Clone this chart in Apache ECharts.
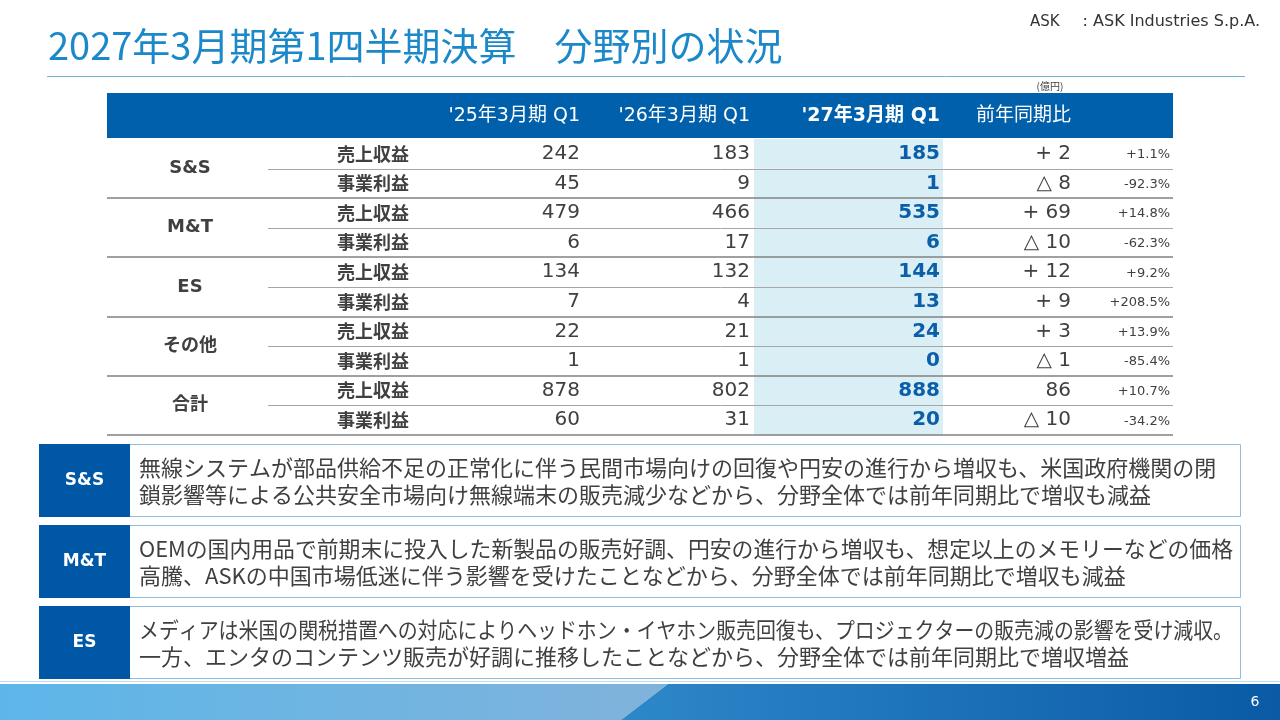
<!DOCTYPE html>
<html><head><meta charset="utf-8">
<script src="https://cdn.jsdelivr.net/npm/echarts@6/dist/echarts.min.js"></script>
<style>html,body{margin:0;padding:0;background:#fff}#c{width:1280px;height:720px}</style>
</head><body><div id="c"></div>
<script>
// ---------- data ----------
const segments = ['S&S', 'M&T', 'ES', 'その他', '合計'];
const metrics = ['売上収益', '事業利益'];
const periodHeaders = ["'25年3月期 Q1", "'26年3月期 Q1", "'27年3月期 Q1", '前年同期比'];
const fy25 = [242, 45, 479, 6, 134, 7, 22, 1, 878, 60];
const fy26 = [183, 9, 466, 17, 132, 4, 21, 1, 802, 31];
const fy27 = [185, 1, 535, 6, 144, 13, 24, 0, 888, 20];
const yoyDiff = ['+ 2', '△ 8', '+ 69', '△ 10', '+ 12', '+ 9', '+ 3', '△ 1', '86', '△ 10'];
const yoyPct = ['+1.1%', '-92.3%', '+14.8%', '-62.3%', '+9.2%', '+208.5%', '+13.9%', '-85.4%', '+10.7%', '-34.2%'];
const noteLabels = ['S&S', 'M&T', 'ES'];
const noteLine1 = [
  '無線システムが部品供給不足の正常化に伴う民間市場向けの回復や円安の進行から増収も、米国政府機関の閉',
  'OEMの国内用品で前期末に投入した新製品の販売好調、円安の進行から増収も、想定以上のメモリーなどの価格',
  'メディアは米国の関税措置への対応によりヘッドホン・イヤホン販売回復も、プロジェクターの販売減の影響を受け減収。'
];
const noteLine2 = [
  '鎖影響等による公共安全市場向け無線端末の販売減少などから、分野全体では前年同期比で増収も減益',
  '高騰、ASKの中国市場低迷に伴う影響を受けたことなどから、分野全体では前年同期比で増収も減益',
  '一方、エンタのコンテンツ販売が好調に推移したことなどから、分野全体では前年同期比で増収増益'
];
const titleText = '2027年3月期第1四半期決算　分野別の状況';
const companyAbbr = 'ASK';
const companyName = ': ASK Industries S.p.A.';
const unitText = '(億円)';
const pageNo = '6';

// ---------- layout / style ----------
const rowKeys = [];
segments.forEach(s => metrics.forEach(m => rowKeys.push(s + '|' + m)));
const CJK = '"Noto Sans CJK JP"';
const LAT = '"DejaVu Sans", "Noto Sans CJK JP"';
const TXT = '#404040';
const BLUE = '#0b5fa8';
const HEAD = '#0060ac';
const tableL = 107, tableR = 1173;
const colRight = [580, 750, 940, 1071, 1170];
const hiL = 754, hiR = 943;
const itemCx = 373, groupCx = 190, innerLineX = 268;

function txt(text, x, y, font, fill, align) {
  return { type: 'text', style: { text: text, x: x, y: y, font: font, fill: fill,
    textAlign: align || 'left', align: align || 'left', textVerticalAlign: 'middle', verticalAlign: 'middle' } };
}

const measureCtx = document.createElement('canvas').getContext('2d');
function fitScale(text, font, maxW) {
  measureCtx.font = font;
  const w = measureCtx.measureText(text).width;
  return w > maxW ? maxW / w : 1;
}

// ---------- static graphics ----------
const graphics = [];
graphics.push(txt(titleText, 48, 46, '38px ' + CJK, '#1b88c9'));
graphics.push(txt(companyAbbr, 1030, 22, '15px ' + LAT, '#333333', 'left'));
graphics.push(txt(companyName, 1260, 22, '16px ' + LAT, '#333333', 'right'));
graphics.push({ type: 'line', shape: { x1: 47, y1: 76.5, x2: 1245, y2: 76.5 }, style: { stroke: '#6db2d9', lineWidth: 1 } });
graphics.push(txt(unitText, 1050, 86, '10px ' + CJK, TXT, 'center'));
graphics.push({ type: 'rect', shape: { x: tableL, y: 93, width: tableR - tableL, height: 45 }, style: { fill: HEAD } });
periodHeaders.forEach((h, k) => {
  graphics.push(txt(h, colRight[k], 116, (k === 2 ? 'bold ' : '') + '19px ' + LAT, '#ffffff', 'right'));
});
// note boxes
noteLabels.forEach((lab, k) => {
  const top = 444 + k * 81;
  graphics.push({ type: 'rect', shape: { x: 39.5, y: top + 0.5, width: 1201, height: 72 }, style: { fill: '#ffffff', stroke: '#93bcdc', lineWidth: 1 } });
  graphics.push({ type: 'rect', shape: { x: 39, y: top, width: 91, height: 73 }, style: { fill: '#0057a5' } });
  graphics.push(txt(lab, 84.5, top + 36.5, 'bold 17px ' + LAT, '#ffffff', 'center'));
  const f = '22px ' + CJK;
  [noteLine1[k], noteLine2[k]].forEach((line, j) => {
    const s = fitScale(line, f, 1094);
    graphics.push({ type: 'text', x: 139, y: top + 23.5 + j * 27, scaleX: s,
      style: { text: line, x: 0, y: 0, font: f, fill: TXT, textAlign: 'left', align: 'left', textVerticalAlign: 'middle', verticalAlign: 'middle' } });
  });
});
// footer
graphics.push({ type: 'line', shape: { x1: 0, y1: 681.5, x2: 1280, y2: 681.5 }, style: { stroke: '#bcdcf0', lineWidth: 1 } });
graphics.push({ type: 'polygon', shape: { points: [[0, 684], [668, 684], [621, 720], [0, 720]] },
  style: { fill: new echarts.graphic.LinearGradient(0, 0, 1, 0, [{ offset: 0, color: '#5db6e9' }, { offset: 1, color: '#80b3db' }]) } });
graphics.push({ type: 'polygon', shape: { points: [[668, 684], [1280, 684], [1280, 720], [621, 720]] },
  style: { fill: new echarts.graphic.LinearGradient(0, 0, 1, 0, [{ offset: 0, color: '#2d88c9' }, { offset: 1, color: '#0a5aa6' }]) } });
graphics.push(txt(pageNo, 1255, 702, '14px ' + LAT, '#ffffff', 'center'));

// ---------- series ----------
const rowData = rowKeys.map((k, i) => [0, i]);

function highlightItem(params, api) {
  const i = api.value(1);
  const c = api.coord([0, i]);
  const h = api.size([0, 1])[1];
  const x1 = api.coord([hiL, i])[0], x2 = api.coord([hiR, i])[0];
  return { type: 'rect', shape: { x: x1, y: c[1] - h / 2, width: x2 - x1, height: h }, style: { fill: '#daeef6' } };
}

function cellItem(params, api) {
  const i = api.value(1);
  const y = api.coord([0, i])[1];
  const h = api.size([0, 1])[1];
  const X = v => api.coord([v, i])[0];
  const bottom = y + h / 2;
  const ch = [];
  ch.push(txt(metrics[i % 2], X(itemCx), y, 'bold 18px ' + CJK, TXT, 'center'));
  ch.push(txt(String(fy25[i]), X(colRight[0]), y, '20px ' + LAT, TXT, 'right'));
  ch.push(txt(String(fy26[i]), X(colRight[1]), y, '20px ' + LAT, TXT, 'right'));
  ch.push(txt(String(fy27[i]), X(colRight[2]), y, 'bold 20px ' + LAT, BLUE, 'right'));
  ch.push(txt(yoyDiff[i], X(colRight[3]), y, '20px ' + LAT, TXT, 'right'));
  ch.push(txt(yoyPct[i], X(colRight[4]), y + 1, '13px ' + LAT, TXT, 'right'));
  if (i % 2 === 0) {
    ch.push(txt(segments[i / 2], X(groupCx), bottom, 'bold 18px ' + LAT, TXT, 'center'));
    ch.push({ type: 'line', shape: { x1: X(innerLineX), y1: Math.round(bottom) + 0.5, x2: X(tableR), y2: Math.round(bottom) + 0.5 }, style: { stroke: '#a6a6a6', lineWidth: 1 } });
  } else {
    ch.push({ type: 'line', shape: { x1: X(tableL), y1: Math.round(bottom), x2: X(tableR), y2: Math.round(bottom) }, style: { stroke: '#808080', lineWidth: 1.6 } });
  }
  return { type: 'group', children: ch };
}

const chart = echarts.init(document.getElementById('c'), null, { renderer: 'canvas' });
chart.setOption({
  animation: false,
  backgroundColor: '#ffffff',
  grid: { left: 0, right: 0, top: 139, bottom: 285 },
  xAxis: { type: 'value', min: 0, max: 1280, show: false },
  yAxis: { type: 'category', data: rowKeys, inverse: true, show: false },
  graphic: graphics,
  series: [
    { type: 'custom', renderItem: highlightItem, data: rowData, encode: { x: 0, y: 1 }, silent: true, z: 1 },
    { type: 'custom', renderItem: cellItem, data: rowData, encode: { x: 0, y: 1 }, silent: true, z: 2 }
  ]
});
</script></body></html>
